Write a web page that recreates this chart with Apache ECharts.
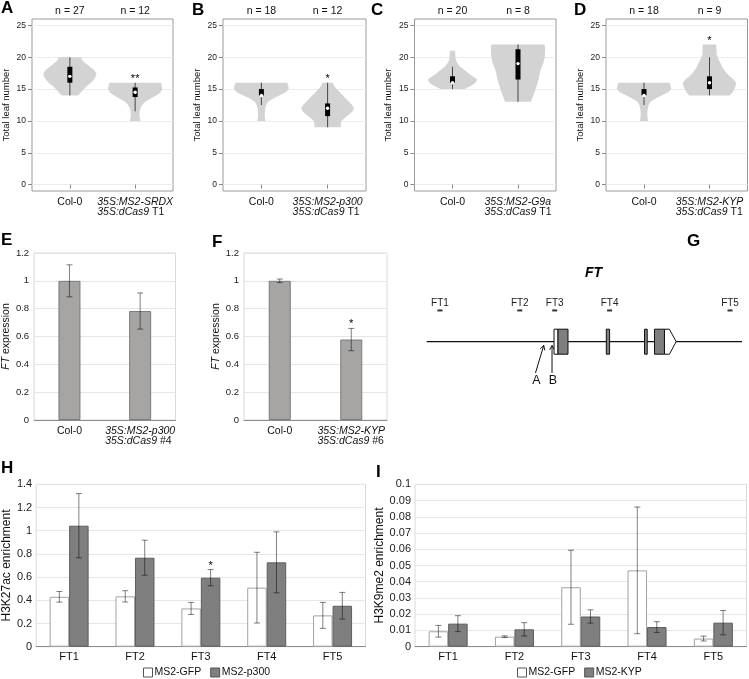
<!DOCTYPE html>
<html>
<head>
<meta charset="utf-8">
<script src="https://cdn.jsdelivr.net/npm/echarts@6/dist/echarts.min.js"></script>
<style>
html, body { margin: 0; padding: 0; background: #fff; }
#main { width: 749px; height: 679px; }
</style>
</head>
<body>
<div id="main"></div>
<script>
var FONT = 'Liberation Sans, Arial, sans-serif';

// ---------- A-D : total leaf number (violins) ----------
var leafTicks = [0, 5, 10, 15, 20, 25];
var violinPos = [1, 2];
var nA = ['n = 27', 'n = 12'];
var nB = ['n = 18', 'n = 12'];
var nC = ['n = 20', 'n = 8'];
var nD = ['n = 18', 'n = 9'];
var fusions = ['MS2-SRDX', 'MS2-p300', 'MS2-G9a', 'MS2-KYP'];

// outline of each violin: leaf number levels + relative density (1 = widest)
var colA_lv = [14, 14.5, 15, 15.5, 16, 16.5, 17, 17.5, 18, 18.5, 19, 19.5, 20];
var colA_dn = [0.30, 0.41, 0.52, 0.63, 0.78, 0.89, 0.96, 0.98, 0.89, 0.74, 0.59, 0.46, 0.41];
var srdx_lv = [10, 10.5, 11, 11.5, 12, 12.5, 13, 13.5, 14, 14.5, 15, 15.5, 16];
var srdx_dn = [0.20, 0.17, 0.16, 0.17, 0.20, 0.26, 0.37, 0.56, 0.78, 0.94, 1.00, 0.98, 0.96];
var colB_lv = [10, 10.5, 11, 11.5, 12, 12.5, 13, 13.5, 14, 14.5, 15, 15.5, 16];
var colB_dn = [0.15, 0.13, 0.12, 0.13, 0.14, 0.17, 0.24, 0.41, 0.65, 0.89, 1.00, 0.98, 0.94];
var p300_lv = [9, 9.5, 10, 10.5, 11, 11.5, 12, 12.5, 13, 13.5, 14, 14.5, 15, 15.5, 16];
var p300_dn = [0.48, 0.48, 0.50, 0.63, 0.78, 0.91, 0.96, 0.89, 0.78, 0.67, 0.56, 0.44, 0.33, 0.24, 0.19];
var colC_lv = [15, 15.5, 16, 16.5, 17, 17.5, 18, 18.5, 19, 19.5, 20, 20.5, 21];
var colC_dn = [0.44, 0.67, 0.85, 0.91, 0.74, 0.59, 0.44, 0.28, 0.19, 0.13, 0.11, 0.10, 0.10];
var g9a_lv = [13, 14, 15, 16, 17, 18, 19, 20, 21, 22];
var g9a_dn = [0.48, 0.56, 0.65, 0.72, 0.78, 0.83, 0.93, 0.98, 1.00, 0.98];
var kyp_lv = [14, 14.5, 15, 15.5, 16, 16.5, 17, 17.5, 18, 18.5, 19, 19.5, 20, 20.5, 21, 21.5, 22];
var kyp_dn = [0.74, 0.85, 0.91, 0.96, 0.98, 0.89, 0.74, 0.63, 0.54, 0.46, 0.41, 0.35, 0.30, 0.26, 0.26, 0.25, 0.25];

// box: [low whisker, q1, median, q3, high whisker]
var colA_box = [14, 16, 17, 18.5, 20];
var srdx_box = [11.5, 13.75, 14.5, 15.25, 16];
var colB_box = [12.5, 14, 14, 15, 16];
var p300_box = [9, 10.75, 12, 12.75, 16];
var colC_box = [15, 16, 16, 17, 18.5];
var g9a_box = [13, 16.5, 19, 21.25, 22];
var kyp_box = [14, 15, 16, 17, 20];

var sigA = ['', '**'];
var sigB = ['', '*'];
var sigC = ['', ''];
var sigD = ['', '*'];

// ---------- E, F : FT expression ----------
var eCats = ['Col-0', 'MS2-p300'];
var eLine = '#4';
var eMean = [1.0, 0.783];
var eErr = [0.115, 0.13];
var eSig = ['', ''];
var fCats = ['Col-0', 'MS2-KYP'];
var fLine = '#6';
var fMean = [1.0, 0.578];
var fErr = [0.013, 0.08];
var fSig = ['', '*'];

// ---------- G : FT locus ----------
var ftLocus = [0, 3160];
var ftExonStart = [1276, 1316, 1800, 2183, 2283, 2383];
var ftExonEnd = [1316, 1416, 1833, 2210, 2383, 2500];
var ftExonKind = ['utr', 'cds', 'cds', 'cds', 'cds', 'utr3'];
var ftPrimers = ['FT1', 'FT2', 'FT3', 'FT4', 'FT5'];
var ftPrimerPos = [133, 933, 1283, 1833, 3040];
var siteNames = ['A', 'B'];
var siteFrom = [1090, 1256];
var siteTo = [1173, 1256];

// ---------- H, I : ChIP ----------
var chipCats = ['FT1', 'FT2', 'FT3', 'FT4', 'FT5'];
var hGfp = [0.43, 0.434, 0.33, 0.509, 0.27];
var hGfpErr = [0.046, 0.049, 0.052, 0.305, 0.112];
var hP300 = [1.043, 0.767, 0.595, 0.727, 0.353];
var hP300Err = [0.277, 0.151, 0.07, 0.263, 0.115];
var hSig = ['', '', '*', '', ''];
var iGfp = [0.0095, 0.0062, 0.0366, 0.047, 0.005];
var iGfpErr = [0.0036, 0.0005, 0.0228, 0.039, 0.0015];
var iKyp = [0.0142, 0.0107, 0.0186, 0.0121, 0.0148];
var iKypErr = [0.0049, 0.0041, 0.0041, 0.0033, 0.0075];

var violins = [
  [{lv: colA_lv, dn: colA_dn, box: colA_box}, {lv: srdx_lv, dn: srdx_dn, box: srdx_box}],
  [{lv: colB_lv, dn: colB_dn, box: colB_box}, {lv: p300_lv, dn: p300_dn, box: p300_box}],
  [{lv: colC_lv, dn: colC_dn, box: colC_box}, {lv: g9a_lv, dn: g9a_dn, box: g9a_box}],
  [{lv: colB_lv, dn: colB_dn, box: colB_box}, {lv: kyp_lv, dn: kyp_dn, box: kyp_box}]
];
var nLabels = [nA, nB, nC, nD];
var sigs = [sigA, sigB, sigC, sigD];

var VW = 0.415; // half width of the widest violin, in x units

function violinRenderer(shapes, marks) {
  return function (params, api) {
    var k = params.dataIndex;
    var s = shapes[k];
    var cx = api.value(0);
    var pts = [];
    for (var i = 0; i < s.lv.length; i++) pts.push(api.coord([cx + VW * s.dn[i], s.lv[i]]));
    for (var j = s.lv.length - 1; j >= 0; j--) pts.push(api.coord([cx - VW * s.dn[j], s.lv[j]]));
    var b = s.box;
    var lo = api.coord([cx, b[0]]), q1 = api.coord([cx, b[1]]), md = api.coord([cx, b[2]]);
    var q3 = api.coord([cx, b[3]]), hi = api.coord([cx, b[4]]);
    var top = api.coord([cx, s.lv[s.lv.length - 1]]);
    var kids = [
      {type: 'polygon', shape: {points: pts}, style: {fill: '#d3d3d3'}},
      {type: 'line', shape: {x1: lo[0], y1: lo[1], x2: hi[0], y2: hi[1]}, style: {stroke: '#444', lineWidth: 1}},
      {type: 'rect', shape: {x: q3[0] - 2.5, y: q3[1], width: 5, height: q1[1] - q3[1]}, style: {fill: '#000'}},
      {type: 'circle', shape: {cx: md[0], cy: md[1], r: 1.7}, style: {fill: '#fff'}}
    ];
    if (marks[k]) {
      kids.push({type: 'text', x: top[0], y: top[1] - 4,
        style: {text: marks[k], align: 'center', verticalAlign: 'middle', fontSize: 11, fontFamily: FONT, fill: '#000'}});
    }
    return {type: 'group', children: kids};
  };
}

function errorRenderer(means, errs, marks, shift) {
  return function (params, api) {
    var i = params.dataIndex;
    var x = api.coord([i, 0])[0] + shift;
    var hi = api.coord([i, means[i] + errs[i]])[1];
    var lo = api.coord([i, means[i] - errs[i]])[1];
    var st = {stroke: 'rgba(0,0,0,0.5)', lineWidth: 1};
    var kids = [
      {type: 'line', shape: {x1: x, y1: hi, x2: x, y2: lo}, style: st},
      {type: 'line', shape: {x1: x - 3, y1: hi, x2: x + 3, y2: hi}, style: st},
      {type: 'line', shape: {x1: x - 3, y1: lo, x2: x + 3, y2: lo}, style: st}
    ];
    if (marks && marks[i]) {
      kids.push({type: 'text', x: x, y: hi - 4,
        style: {text: marks[i], align: 'center', verticalAlign: 'middle', fontSize: 11, fontFamily: FONT, fill: '#000'}});
    }
    return {type: 'group', children: kids};
  };
}

function plantLabel(cat, suffix) {
  if (cat === 'Col-0') return '{p|Col-0}';
  return '{i|35S:' + cat + '}\n{i|35S:dCas9}{p| ' + suffix + '}';
}
var labelRich = {
  i: {fontStyle: 'italic', align: 'left', fontSize: 10.5, lineHeight: 10, fontFamily: FONT, color: '#111'},
  p: {align: 'left', fontSize: 10.5, lineHeight: 10, fontFamily: FONT, color: '#111'}
};

// ---------- layout ----------
var grids = [
  {left: 32, top: 19, width: 141, height: 172},
  {left: 223, top: 19, width: 143, height: 172},
  {left: 414.5, top: 19, width: 141.5, height: 172},
  {left: 606, top: 19, width: 141.5, height: 172},
  {left: 32.5, top: 253, width: 143, height: 167},
  {left: 244, top: 253, width: 143, height: 167},
  {left: 426.7, top: 266.7, width: 315.3, height: 150},
  {left: 33, top: 484.3, width: 332.5, height: 162.4},
  {left: 415, top: 484.3, width: 331.5, height: 162.4}
];
grids.forEach(function (g, k) {
  g.show = k !== 6;
  g.borderColor = k < 4 ? '#9a9a9a' : '#d9d9d9';
  g.borderWidth = 1;
  g.containLabel = false;
});

var xAxes = [], yAxes = [], series = [];

for (var p = 0; p < 4; p++) {
  (function (p) {
    xAxes.push({
      gridIndex: p, type: 'value', min: 0.42, max: 2.58,
      axisLine: {show: false}, splitLine: {show: false},
      axisTick: {show: true, length: 4, customValues: violinPos, lineStyle: {color: '#888'}},
      axisLabel: {customValues: violinPos, margin: 6, rich: labelRich,
        formatter: function (v) { return plantLabel(v === 1 ? 'Col-0' : fusions[p], 'T1'); }}
    });
    yAxes.push({
      gridIndex: p, type: 'value', min: -1, max: 26,
      name: 'Total leaf number', nameLocation: 'middle', nameGap: 21,
      nameTextStyle: {fontSize: 9.5, color: '#111', fontFamily: FONT},
      axisLine: {show: false},
      axisTick: {show: true, length: 4, customValues: leafTicks, lineStyle: {color: '#888'}},
      axisLabel: {customValues: leafTicks, fontSize: 8.5, color: '#222', margin: 6},
      splitLine: {show: true, lineStyle: {color: '#ececec', width: 1}}
    });
    series.push({
      type: 'custom', xAxisIndex: p, yAxisIndex: p,
      renderItem: violinRenderer(violins[p], sigs[p]),
      data: violinPos.map(function (v) { return [v, 0]; })
    });
  })(p);
}
// top axes carrying the n = labels
for (var q = 0; q < 4; q++) {
  (function (q) {
    xAxes.push({
      gridIndex: q, type: 'value', position: 'top', min: 0.42, max: 2.58,
      axisLine: {show: false}, axisTick: {show: false}, splitLine: {show: false},
      axisLabel: {customValues: violinPos, margin: 2, fontSize: 10.5, color: '#111',
        formatter: function (v) { return nLabels[q][v - 1]; }}
    });
  })(q);
}

// E (xAxis 8, yAxis 4) and F (xAxis 9, yAxis 5)
[[eCats, eLine, eMean, eErr, eSig, 4], [fCats, fLine, fMean, fErr, fSig, 5]].forEach(function (d, k) {
  var cats = d[0], line = d[1];
  xAxes.push({
    gridIndex: d[5], type: 'category', data: cats,
    axisLine: {show: true, lineStyle: {color: '#8c8c8c'}}, axisTick: {show: false},
    axisLabel: {interval: 0, hideOverlap: false, margin: 6, rich: labelRich,
      formatter: function (v) { return plantLabel(v, line); }}
  });
  yAxes.push({
    gridIndex: d[5], type: 'value', min: 0, max: 1.2, interval: 0.2,
    name: '{i|FT} expression', nameLocation: 'middle', nameGap: 21,
    nameTextStyle: {fontSize: 10.5, color: '#111', fontFamily: FONT,
      rich: {i: {fontStyle: 'italic', fontSize: 10.5, color: '#111', fontFamily: FONT}}},
    axisLine: {show: false}, axisTick: {show: false},
    axisLabel: {fontSize: 9.5, color: '#222', margin: 5},
    splitLine: {lineStyle: {color: '#e6e6e6'}}
  });
  series.push({
    type: 'bar', xAxisIndex: 8 + k, yAxisIndex: 4 + k, data: d[2], barWidth: 22,
    itemStyle: {color: '#a7a4a4', borderColor: '#7c7979', borderWidth: 1}
  });
  series.push({
    type: 'custom', xAxisIndex: 8 + k, yAxisIndex: 4 + k, z: 5,
    renderItem: errorRenderer(d[2], d[3], d[4], 0),
    data: d[2].map(function (m, i) { return [i, m]; })
  });
});

// G (xAxis 10, yAxis 6)
xAxes.push({gridIndex: 6, type: 'value', min: ftLocus[0], max: ftLocus[1], show: false});
yAxes.push({gridIndex: 6, type: 'value', min: -6, max: 6, show: false});
series.push({
  type: 'custom', xAxisIndex: 10, yAxisIndex: 6,
  renderItem: function (params, api) {
    var a = api.coord([api.value(0), 0]), b = api.coord([api.value(1), 0]);
    return {type: 'line', shape: {x1: a[0], y1: a[1], x2: b[0], y2: b[1]}, style: {stroke: '#111', lineWidth: 1.2}};
  },
  data: [[ftLocus[0], ftLocus[1]]]
});
series.push({
  type: 'custom', xAxisIndex: 10, yAxisIndex: 6, z: 3,
  renderItem: function (params, api) {
    var k = params.dataIndex, kind = ftExonKind[k];
    var p0 = api.coord([api.value(0), 1]), p1 = api.coord([api.value(1), -1]);
    var st = {fill: kind === 'cds' ? '#7f7f7f' : '#fff', stroke: '#111', lineWidth: 1};
    if (kind === 'utr3') {
      var mid = api.coord([api.value(1), 0]);
      var neck = p1[0] - (p1[1] - p0[1]) * 0.27;
      return {type: 'polygon', style: st, shape: {points: [[p0[0], p0[1]], [neck, p0[1]], [mid[0], mid[1]], [neck, p1[1]], [p0[0], p1[1]]]}};
    }
    return {type: 'rect', style: st, shape: {x: p0[0], y: p0[1], width: p1[0] - p0[0], height: p1[1] - p0[1]}};
  },
  data: ftExonStart.map(function (s, i) { return [s, ftExonEnd[i]]; })
});
series.push({
  type: 'custom', xAxisIndex: 10, yAxisIndex: 6,
  renderItem: function (params, api) {
    var k = params.dataIndex;
    var c = api.coord([api.value(0), 2.5]);
    return {type: 'group', children: [
      {type: 'rect', shape: {x: c[0] - 2.5, y: c[1] - 1, width: 5, height: 2}, style: {fill: '#333'}},
      {type: 'text', x: c[0], y: c[1] - 2,
        style: {text: ftPrimers[k], align: 'center', verticalAlign: 'bottom', fontSize: 10, fontFamily: FONT, fill: '#222'}}
    ]};
  },
  data: ftPrimerPos.map(function (v) { return [v, 0]; })
});
series.push({
  type: 'custom', xAxisIndex: 10, yAxisIndex: 6,
  renderItem: function (params, api) {
    var k = params.dataIndex;
    var t = api.coord([api.value(0), -2.5]), h = api.coord([api.value(1), -0.3]);
    var ang = Math.atan2(h[1] - t[1], h[0] - t[0]);
    var L = 5, w = 0.5;
    var w1 = [h[0] - L * Math.cos(ang - w), h[1] - L * Math.sin(ang - w)];
    var w2 = [h[0] - L * Math.cos(ang + w), h[1] - L * Math.sin(ang + w)];
    var st = {stroke: '#111', lineWidth: 1, fill: null};
    return {type: 'group', children: [
      {type: 'line', shape: {x1: t[0], y1: t[1], x2: h[0], y2: h[1]}, style: st},
      {type: 'polyline', shape: {points: [w1, h, w2]}, style: st},
      {type: 'text', x: t[0] + 1, y: t[1] + 1,
        style: {text: siteNames[k], align: 'center', verticalAlign: 'top', fontSize: 12.5, fontFamily: FONT, fill: '#111'}}
    ]};
  },
  data: siteFrom.map(function (v, i) { return [v, siteTo[i]]; })
});

// H (xAxis 11, yAxis 7) and I (xAxis 12, yAxis 8)
var BW = 19.5;
[[hGfp, hGfpErr, hP300, hP300Err, hSig, 'MS2-p300', 1.4, 0.2, 7, 'H3K27ac enrichment'],
 [iGfp, iGfpErr, iKyp, iKypErr, null, 'MS2-KYP', 0.1, 0.01, 8, 'H3K9me2 enrichment']].forEach(function (d, k) {
  xAxes.push({
    gridIndex: d[8], type: 'category', data: chipCats,
    axisLine: {show: true, lineStyle: {color: '#8c8c8c'}}, axisTick: {show: false},
    axisLabel: {interval: 0, margin: 5, fontSize: 11, color: '#111'}
  });
  yAxes.push({
    gridIndex: d[8], type: 'value', min: 0, max: d[6], interval: d[7],
    name: d[9], nameLocation: 'middle', nameGap: k === 0 ? 22 : 24,
    nameTextStyle: {fontSize: 12, color: '#111', fontFamily: FONT},
    axisLine: {show: false}, axisTick: {show: false},
    axisLabel: {fontSize: 11, color: '#222', margin: 4},
    splitLine: {lineStyle: {color: '#e6e6e6'}}
  });
  series.push({
    name: 'MS2-GFP', type: 'bar', xAxisIndex: 11 + k, yAxisIndex: 7 + k, data: d[0],
    barWidth: BW, barGap: '0%',
    itemStyle: {color: '#ffffff', borderColor: '#a3a3a3', borderWidth: 1}
  });
  series.push({
    name: d[5], type: 'bar', xAxisIndex: 11 + k, yAxisIndex: 7 + k, data: d[2],
    barWidth: BW, barGap: '0%',
    itemStyle: {color: '#7f7f7f', borderColor: '#5e5e5e', borderWidth: 1}
  });
  series.push({
    type: 'custom', xAxisIndex: 11 + k, yAxisIndex: 7 + k, z: 5,
    renderItem: errorRenderer(d[0], d[1], null, -BW / 2),
    data: d[0].map(function (m, i) { return [i, m]; })
  });
  series.push({
    type: 'custom', xAxisIndex: 11 + k, yAxisIndex: 7 + k, z: 5,
    renderItem: errorRenderer(d[2], d[3], d[4], BW / 2),
    data: d[2].map(function (m, i) { return [i, m]; })
  });
});

var letters = [['A', 1, 0], ['B', 192, 2], ['C', 371, 2], ['D', 574, 2], ['E', 1, 232],
               ['F', 212, 234], ['G', 687, 233], ['H', 1, 460], ['I', 376, 464]];
var titles = letters.map(function (l) {
  return {text: l[0], left: l[1], top: l[2], padding: 0,
    textStyle: {fontSize: 17, fontWeight: 'bold', color: '#000', fontFamily: FONT}};
});
titles.push({text: 'FT', left: 585, top: 266, padding: 0,
  textStyle: {fontSize: 14, fontWeight: 'bold', fontStyle: 'italic', color: '#000', fontFamily: FONT}});

var legendBase = {
  icon: 'rect', itemWidth: 9, itemHeight: 9, itemGap: 9, top: 667, padding: 0,
  textStyle: {fontSize: 10.5, color: '#111', fontFamily: FONT, padding: [0, 0, 0, -3]}
};
var gfpLegend = {name: 'MS2-GFP', itemStyle: {color: '#fff', borderColor: '#555', borderWidth: 1}};

var chart = echarts.init(document.getElementById('main'), null, {renderer: 'canvas'});
chart.setOption({
  animation: false,
  backgroundColor: '#fff',
  textStyle: {fontFamily: FONT},
  title: titles,
  legend: [
    Object.assign({}, legendBase, {left: 143, data: [gfpLegend, {name: 'MS2-p300', itemStyle: {color: '#7f7f7f', borderColor: '#555', borderWidth: 1}}]}),
    Object.assign({}, legendBase, {left: 517, data: [gfpLegend, {name: 'MS2-KYP', itemStyle: {color: '#7f7f7f', borderColor: '#555', borderWidth: 1}}]})
  ],
  grid: grids,
  xAxis: xAxes,
  yAxis: yAxes,
  series: series
});
</script>
</body>
</html>
